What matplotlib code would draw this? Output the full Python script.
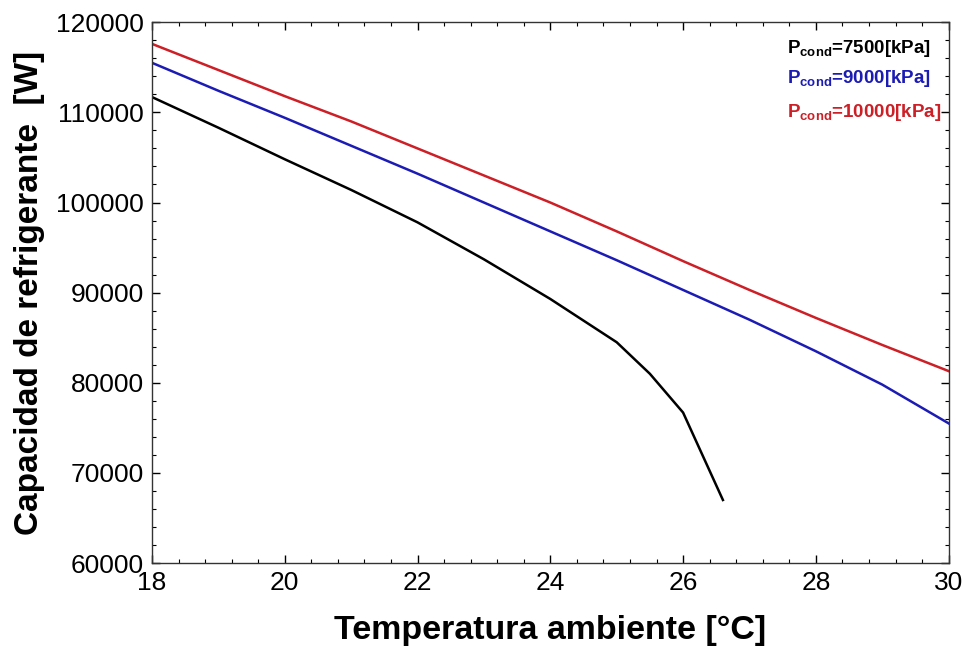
import matplotlib
matplotlib.use("Agg")
import matplotlib.pyplot as plt
from matplotlib.ticker import MultipleLocator

plt.rcParams['font.family'] = ['Liberation Sans', 'DejaVu Sans']
plt.rcParams['mathtext.fontset'] = 'custom'
plt.rcParams['mathtext.bf'] = 'Liberation Sans:bold'
plt.rcParams['mathtext.rm'] = 'Liberation Sans'

# data
temp_full = [18, 19, 20, 21, 22, 23, 24, 25, 26, 27, 28, 29, 30]
cap_10000 = [117600, 114700, 111800, 109000, 106000, 103000, 100000,
             96800, 93500, 90300, 87200, 84200, 81300]
cap_9000 = [115500, 112400, 109400, 106300, 103200, 100000, 96800,
            93600, 90300, 87000, 83500, 79800, 75500]

temp_7500 = [18, 19, 20, 21, 22, 23, 24, 25, 25.5, 26, 26.6]
cap_7500 = [111700, 108300, 104800, 101400, 97800, 93700, 89300,
            84500, 81000, 76700, 67000]

labels = ['7500', '9000', '10000']
colors = ['#000000', '#1c1cb4', '#cc1f26']

fig = plt.figure(figsize=(9.68, 6.54), dpi=100)
ax = fig.add_axes([0.157, 0.139, 0.823, 0.827])

ax.plot(temp_full, cap_10000, color=colors[2], lw=1.8)
ax.plot(temp_full, cap_9000, color=colors[1], lw=1.8)
ax.plot(temp_7500, cap_7500, color=colors[0], lw=1.8)

ax.set_xlim(18, 30)
ax.set_ylim(60000, 120000)
ax.xaxis.set_major_locator(MultipleLocator(2))
ax.xaxis.set_minor_locator(MultipleLocator(0.4))
ax.yaxis.set_major_locator(MultipleLocator(10000))
ax.yaxis.set_minor_locator(MultipleLocator(2000))
ax.tick_params(which='both', direction='in', top=True, right=True, labelsize=19)
ax.tick_params(which='major', length=6, width=1, pad=6)
ax.tick_params(which='minor', length=3, width=0.8)
for s in ax.spines.values():
    s.set_linewidth(1.0)
    s.set_color('#333333')

ax.set_xlabel('Temperatura ambiente [°C]', fontsize=24.5, fontweight='bold', labelpad=14)
ax.set_ylabel('Capacidad de refrigerante  [W]', fontsize=24, fontweight='bold', labelpad=8)

ys = [0.952, 0.896, 0.834]
for lab, c, y in zip(labels, colors, ys):
    ax.text(0.797, y, r'P$_{\mathbf{cond}}$=' + lab + '[kPa]', transform=ax.transAxes,
            color=c, fontsize=13.5, fontweight='bold', va='center', ha='left')

fig.savefig('out.png', dpi=100)
